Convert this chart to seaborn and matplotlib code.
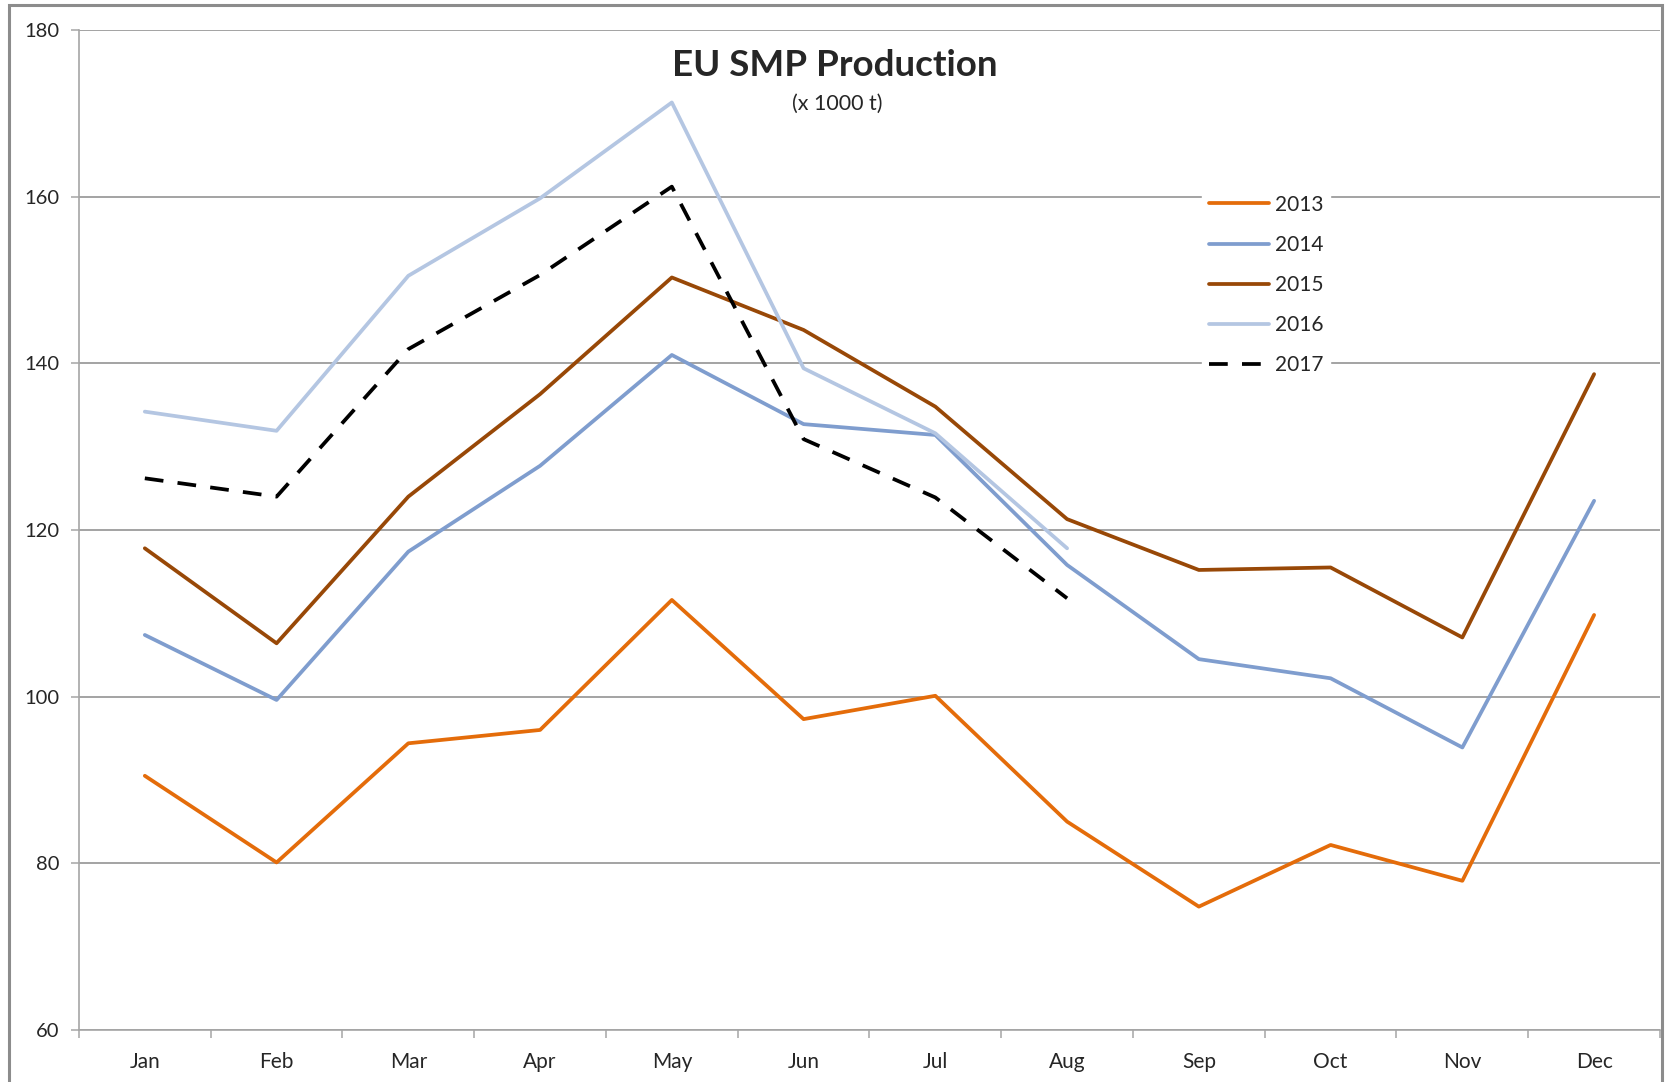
import pandas as pd
import matplotlib.pyplot as plt
import matplotlib.patches as patches
import seaborn as sns

# EU SMP production, x 1000 t
months = ['Jan', 'Feb', 'Mar', 'Apr', 'May', 'Jun', 'Jul', 'Aug', 'Sep', 'Oct', 'Nov', 'Dec']
prod_2013 = [90.5, 80.1, 94.4, 96.0, 111.6, 97.3, 100.1, 85.0, 74.8, 82.2, 77.9, 109.8]
prod_2014 = [107.4, 99.6, 117.4, 127.7, 141.0, 132.7, 131.4, 115.8, 104.5, 102.2, 93.9, 123.5]
prod_2015 = [117.8, 106.4, 124.0, 136.3, 150.3, 144.0, 134.8, 121.3, 115.2, 115.5, 107.1, 138.7]
prod_2016 = [134.2, 131.9, 150.5, 159.8, 171.3, 139.4, 131.6, 117.8]
prod_2017 = [126.2, 124.0, 141.7, 150.6, 161.2, 130.9, 123.9, 111.8]

series = {'2013': prod_2013, '2014': prod_2014, '2015': prod_2015,
          '2016': prod_2016, '2017': prod_2017}
colors = {'2013': '#E46C0A', '2014': '#7F9DCE', '2015': '#984807',
          '2016': '#B4C6E2', '2017': '#000000'}

sns.set_style('white')
plt.rcParams['font.family'] = ['Lato', 'DejaVu Sans']

fig = plt.figure(figsize=(16.69, 10.82), dpi=100)
ax = fig.add_axes([0.0473, 0.0481, 0.9473, 0.9242])

for year, vals in series.items():
    df = pd.DataFrame({'month': range(len(vals)), 'value': vals})
    sns.lineplot(data=df, x='month', y='value', ax=ax, color=colors[year],
                 linewidth=2.7, label=year)
    if year == '2017':
        ax.lines[-1].set_dashes((5, 3.8))

ax.set_xlim(-0.5, 11.5)
ax.set_ylim(60, 180)
ax.set_yticks(range(60, 181, 20))
ax.set_xticks(range(12))
ax.set_xticklabels(months)
ax.set_xticks([i - 0.5 for i in range(13)], minor=True)
ax.set_xlabel('')
ax.set_ylabel('')

ax.grid(axis='y', color='#8a8a8a', linewidth=1.1)
ax.set_axisbelow(True)
for side in ['top', 'right']:
    ax.spines[side].set_visible(False)
for side in ['left', 'bottom']:
    ax.spines[side].set_color('#a6a6a6')
    ax.spines[side].set_linewidth(1.2)

ax.tick_params(axis='y', which='major', length=6, color='#a6a6a6', width=1.1,
               labelsize=14.5, pad=8, left=True)
ax.tick_params(axis='x', which='major', length=0, labelsize=15, pad=16)
ax.tick_params(axis='x', which='minor', length=6, color='#a6a6a6', width=1.1, bottom=True)

leg = ax.legend(loc='upper left', bbox_to_anchor=(0.704, 0.852), frameon=True,
                fontsize=15, handlelength=2.9, handletextpad=0.3,
                labelspacing=0.97, borderpad=0.3)
leg.get_frame().set_facecolor('white')
leg.get_frame().set_edgecolor('white')
leg.get_frame().set_alpha(1)

fig.text(0.5003, 0.9395, 'EU SMP Production', ha='center', va='center',
         fontsize=26.5, fontweight='bold')
fig.text(0.5015, 0.904, '(x 1000 t)', ha='center', va='center', fontsize=15.5)

fig.patches.append(patches.Rectangle((9 / 1669, -0.01), 1653 / 1669, 1.0 - 5 / 1082 + 0.01,
                                     transform=fig.transFigure, fill=False,
                                     edgecolor='#8c8c8c', linewidth=2.2))

fig.savefig('out.png', dpi=100)
